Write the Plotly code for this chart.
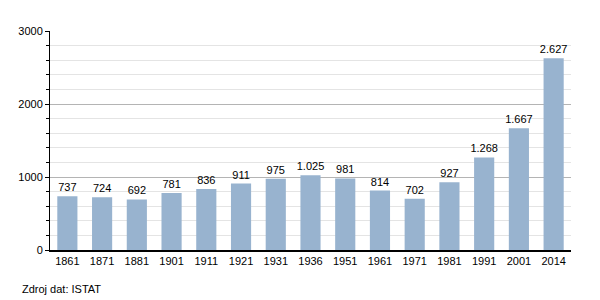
import plotly.graph_objects as go

years = ["1861", "1871", "1881", "1901", "1911", "1921", "1931", "1936",
         "1951", "1961", "1971", "1981", "1991", "2001", "2014"]
population = [737, 724, 692, 781, 836, 911, 975, 1025, 981, 814, 702, 927, 1268, 1667, 2627]
labels = [f"{v:,}".replace(",", ".") for v in population]
source = "Zdroj dat: ISTAT"

fig = go.Figure(go.Bar(
    x=years, y=population, text=labels, textposition="outside",
    textfont=dict(size=11, color="#000"), cliponaxis=False, constraintext="none",
    marker=dict(color="#98b3cf", line=dict(width=0)), width=0.58,
))

fig.update_layout(
    width=600, height=300,
    margin=dict(l=50, r=29, t=31, b=50),
    paper_bgcolor="white", plot_bgcolor="white",
    font=dict(family="Liberation Sans, Arial, sans-serif", size=11, color="#000"),
    showlegend=False,
    xaxis=dict(showline=True, linecolor="#000", linewidth=1.5, ticks="",
               showgrid=False, tickfont=dict(size=11)),
    yaxis=dict(range=[0, 3000], dtick=1000, showline=True, linecolor="#000", linewidth=1,
               gridcolor="#b4b4b4", gridwidth=1, ticks="outside", ticklen=4, tickcolor="#000",
               tickformat="d", zeroline=False, tickfont=dict(size=11),
               minor=dict(dtick=200, showgrid=True, gridcolor="#e4e4e4", ticks="outside",
                          ticklen=3, tickcolor="#000")),
    annotations=[dict(text=source, xref="paper", yref="paper",
                      x=-30/521, y=-(289-250)/219, xanchor="left", yanchor="middle",
                      showarrow=False, font=dict(size=11))],
)

fig.write_html("out.html")
